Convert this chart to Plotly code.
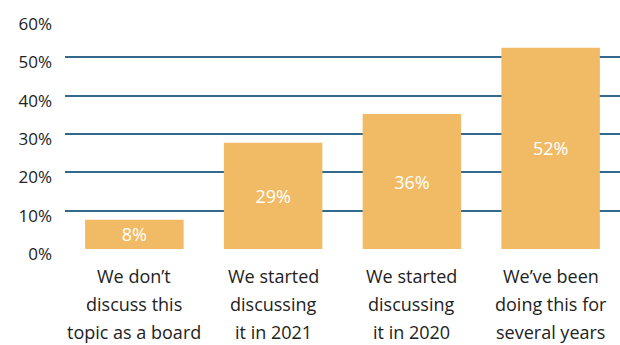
import plotly.graph_objects as go

categories = [
    ["We don’t", "discuss this", "topic as a board"],
    ["We started", "discussing", "it in 2021"],
    ["We started", "discussing", "it in 2020"],
    ["We’ve been", "doing this for", "several years"],
]
heights = [7.6, 27.7, 35.2, 52.5]
labels = ["8%", "29%", "36%", "52%"]
y_ticks = [0, 10, 20, 30, 40, 50, 60]
y_tick_text = ["0%", "10%", "20%", "30%", "40%", "50%", "60%"]

x_pos = list(range(len(categories)))

fig = go.Figure(
    go.Bar(
        x=x_pos,
        y=heights,
        text=labels,
        textposition="inside",
        insidetextanchor="middle",
        textfont=dict(color="white", size=18, family="Open Sans"),
        marker=dict(color="#F1BB65", line=dict(width=0)),
        hoverinfo="skip",
    )
)

for xi, lines in zip(x_pos, categories):
    for li, line in enumerate(lines):
        fig.add_annotation(
            x=xi, xref="x", y=0, yref="paper",
            text=line, showarrow=False,
            xanchor="center", yanchor="middle",
            yshift=-(27 + li * 28),
            borderpad=0,
            font=dict(size=18, color="#222222", family="Open Sans"),
        )

fig.update_layout(
    width=620,
    height=345,
    margin=dict(l=65, r=0, t=19, b=96),
    paper_bgcolor="white",
    plot_bgcolor="white",
    bargap=0.29,
    showlegend=False,
    font=dict(family="Open Sans", color="#222222"),
    uniformtext=dict(minsize=18, mode="show"),
)
fig.update_xaxes(
    tickmode="array",
    tickvals=x_pos,
    showticklabels=False,
    showgrid=False,
    zeroline=False,
    showline=False,
    ticks="",
    range=[-0.5, 3.5],
)
fig.update_yaxes(
    range=[0, 60],
    tickmode="array",
    tickvals=y_ticks,
    ticktext=y_tick_text,
    tickfont=dict(size=17, color="#222222"),
    showgrid=True,
    gridcolor="#33698C",
    gridwidth=1.5,
    zeroline=False,
    showline=False,
    ticks="",
    ticklabelstandoff=12,
    ticklabelshift=5,
)
fig.write_html("out.html")
